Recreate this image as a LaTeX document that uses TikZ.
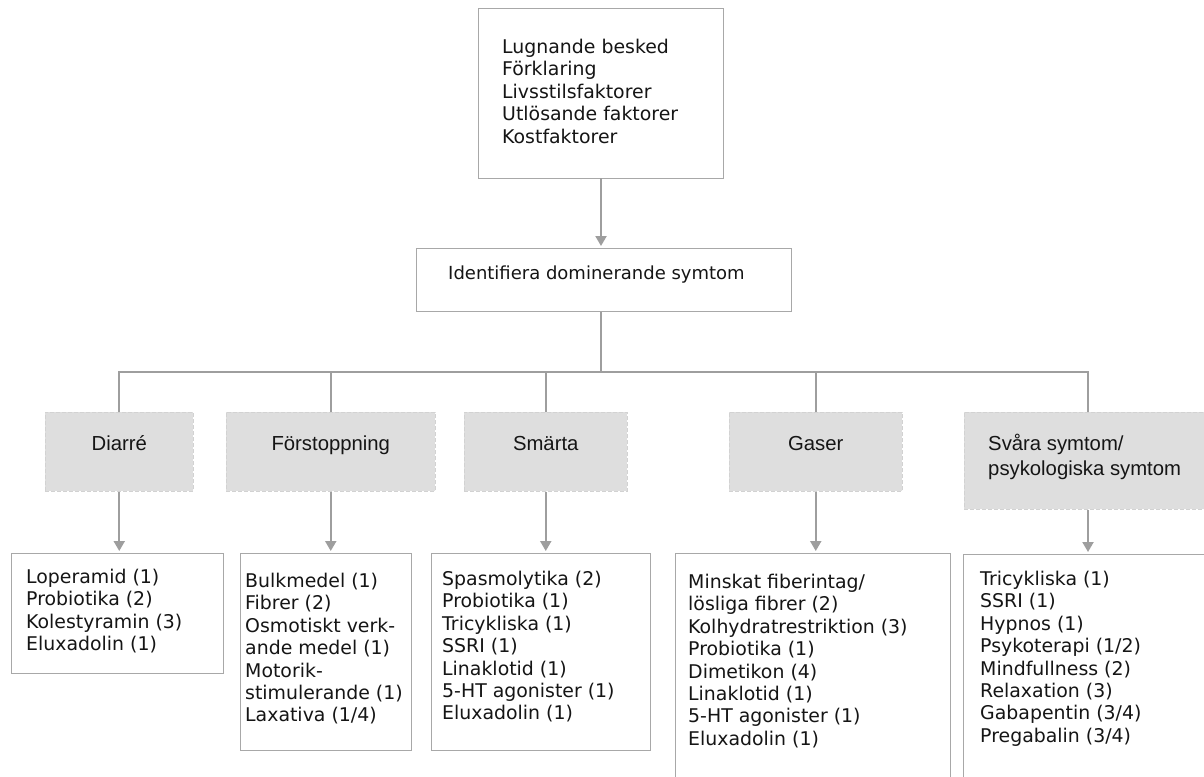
\documentclass[tikz,border=0pt]{standalone}
\usepackage{fontspec}
\usetikzlibrary{arrows.meta,calc}
\newfontfamily\listfont{DejaVu Sans}
\newfontfamily\labfont{Liberation Sans}
\definecolor{conngray}{HTML}{9E9E9E}
\definecolor{boxgray}{HTML}{A8A8A8}
\definecolor{fillgray}{HTML}{DEDEDE}
\definecolor{fillbd}{HTML}{D2D2D2}
\definecolor{txt}{HTML}{151515}
\tikzset{
  outline/.style={draw=boxgray, line width=1.3pt, fill=white, anchor=north west, inner sep=0pt},
  graybox/.style={fill=fillgray, draw=fillbd, line width=0.5pt, dash pattern=on 4pt off 2pt, anchor=north west, inner sep=0pt},
  listtext/.style={anchor=north west, inner sep=0pt, align=left, text=txt,
    font=\listfont\fontsize{18.9}{22.4}\selectfont},
  labtext/.style={anchor=base, inner sep=0pt, text=txt,
    font=\labfont\fontsize{20.3}{25}\selectfont},
  conn/.style={draw=conngray, line width=2pt},
  arr/.style={conn, -{Triangle[width=11pt,length=10pt]}, shorten >=2pt},
}
\begin{document}
\begin{tikzpicture}[x=1pt,y=-1pt]
\clip (0,0) rectangle (1204,776);
\fill[white] (0,0) rectangle (1204,776);

% top box
\node[outline, minimum width=245pt, minimum height=170pt] (top) at (478,8) {};
\node[listtext] (toptext) at (502,39) {Lugnande besked\\Förklaring\\Livsstilsfaktorer\\Utlösande faktorer\\Kostfaktorer};

% identify box
\node[outline, minimum width=375pt, minimum height=63pt] (ident) at (416,248) {};
\node[anchor=base west, inner sep=0pt, text=txt, font=\listfont\fontsize{18}{22}\selectfont] (identtext) at (448,279) {Identifiera dominerande symtom};

% gray symptom boxes
\node[graybox, minimum width=148pt, minimum height=79pt] (g1) at (45,412) {};
\node[graybox, minimum width=209pt, minimum height=79pt] (g2) at (226,412) {};
\node[graybox, minimum width=163pt, minimum height=79pt] (g3) at (464,412) {};
\node[graybox, minimum width=173pt, minimum height=79pt] (g4) at (729,412) {};
\node[graybox, minimum width=248pt, minimum height=97pt] (g5) at (964,412) {};

\node[labtext] (t1) at ($(g1.north)+(0,38)$) {Diarré};
\node[labtext] (t2) at ($(g2.north)+(0,38)$) {Förstoppning};
\node[labtext] (t3) at ($(g3.north)+(0,38)$) {Smärta};
\node[labtext] (t4) at ($(g4.north)+(0,38)$) {Gaser};
\node[labtext, anchor=base west] (t5a) at (988,450) {Svåra symtom/};
\node[labtext, anchor=base west] (t5b) at (988,475) {psykologiska symtom};

% list boxes
\node[outline, minimum width=212pt, minimum height=120pt] (l1) at (11,553) {};
\node[outline, minimum width=171pt, minimum height=197pt] (l2) at (240,553) {};
\node[outline, minimum width=219pt, minimum height=197pt] (l3) at (431,553) {};
\node[outline, minimum width=275pt, minimum height=260pt] (l4) at (675,553) {};
\node[outline, minimum width=260pt, minimum height=260pt] (l5) at (963,554) {};

\node[listtext] (x1) at (26,569) {Loperamid (1)\\Probiotika (2)\\Kolestyramin (3)\\Eluxadolin (1)};
\node[listtext] (x2) at (245,573) {Bulkmedel (1)\\Fibrer (2)\\Osmotiskt verk-\\ande medel (1)\\Motorik-\\stimulerande (1)\\Laxativa (1/4)};
\node[listtext] (x3) at (442,571) {Spasmolytika (2)\\Probiotika (1)\\Tricykliska (1)\\SSRI (1)\\Linaklotid (1)\\5-HT agonister (1)\\Eluxadolin (1)};
\node[listtext] (x4) at (688,574) {Minskat fiberintag/\\lösliga fibrer (2)\\Kolhydratrestriktion (3)\\Probiotika (1)\\Dimetikon (4)\\Linaklotid (1)\\5-HT agonister (1)\\Eluxadolin (1)};
\node[listtext] (x5) at (980,571) {Tricykliska (1)\\SSRI (1)\\Hypnos (1)\\Psykoterapi (1/2)\\Mindfullness (2)\\Relaxation (3)\\Gabapentin (3/4)\\Pregabalin (3/4)};

% connectors
\coordinate (bus) at (601,372);
\draw[arr] (601,178) coordinate (topout) -- (topout |- ident.north);
\draw[conn] (bus |- ident.south) -- (bus);
\coordinate (d5) at (1088,412);
\draw[conn] (g1.north) -- (g1.north |- bus) -- (d5 |- bus) -- (d5);
\draw[conn] (g2.north) -- (g2.north |- bus);
\draw[conn] (g3.north) -- (g3.north |- bus);
\draw[conn] (g4.north) -- (g4.north |- bus);

\draw[arr] (g1.south) -- (g1.south |- l1.north);
\draw[arr] (g2.south) -- (g2.south |- l2.north);
\draw[arr] (g3.south) -- (g3.south |- l3.north);
\draw[arr] (g4.south) -- (g4.south |- l4.north);
\draw[arr] (d5 |- g5.south) -- (d5 |- l5.north);
\end{tikzpicture}
\end{document}
